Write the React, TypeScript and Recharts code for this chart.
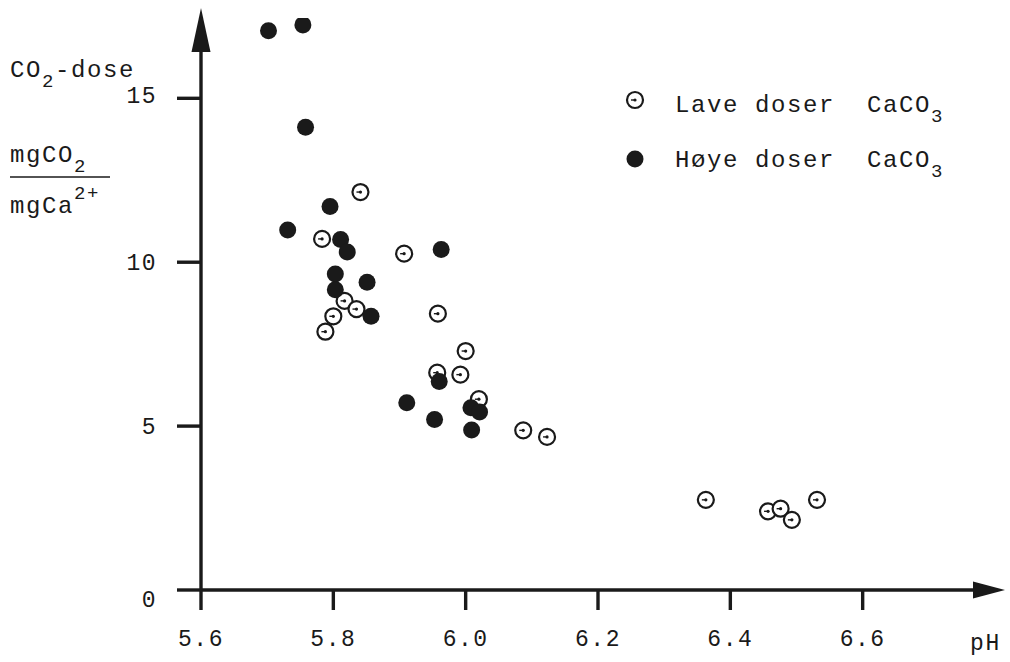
import { ScatterChart, Scatter, XAxis, YAxis, ReferenceDot, Label } from "recharts";

const FONT = "'Liberation Mono', 'DejaVu Sans Mono', monospace";
const INK = "#1a1a1a";

// pH / CO2-dose for low CaCO3 doses (open circles)
const lavePH = [5.841, 5.783, 5.907, 5.817, 5.835, 5.8, 5.788, 5.958, 6.0, 5.957, 5.992, 6.02, 6.087, 6.123, 6.363, 6.457, 6.476, 6.493, 6.531];
const laveDose = [12.14, 10.71, 10.26, 8.82, 8.57, 8.35, 7.88, 8.43, 7.29, 6.63, 6.57, 5.82, 4.87, 4.67, 2.75, 2.4, 2.48, 2.14, 2.75];

// high CaCO3 doses (filled dots)
const hoyePH = [5.702, 5.754, 5.758, 5.795, 5.731, 5.811, 5.821, 5.963, 5.803, 5.803, 5.851, 5.857, 5.96, 5.911, 6.008, 6.021, 5.953, 6.009];
const hoyeDose = [17.06, 17.24, 14.12, 11.7, 10.98, 10.69, 10.31, 10.39, 9.64, 9.16, 9.39, 8.35, 6.36, 5.71, 5.56, 5.43, 5.2, 4.88];

const xTicks = [5.6, 5.8, 6.0, 6.2, 6.4, 6.6];
const yTicks = [0, 5, 10, 15];

const lave = lavePH.map((x, i) => ({ x, y: laveDose[i] }));
const hoye = hoyePH.map((x, i) => ({ x, y: hoyeDose[i] }));

const OpenDot = ({ cx, cy }: any) => (
  <g>
    <circle cx={cx} cy={cy} r={8} fill="#fff" stroke={INK} strokeWidth={2.2} />
    <circle cx={cx} cy={cy} r={1.6} fill={INK} />
    <line x1={cx - 4} y1={cy} x2={cx} y2={cy} stroke={INK} strokeWidth={1.4} />
  </g>
);

const FilledDot = ({ cx, cy }: any) => <circle cx={cx} cy={cy} r={8.5} fill={INK} />;

const YTick = ({ x, y, payload }: any) => (
  <text
    x={x}
    y={y + (payload.value === 0 ? 9 : payload.value === 15 ? -3 : 0)}
    dy="0.35em"
    textAnchor="end"
    fontFamily={FONT}
    fontSize={23}
    letterSpacing={1.5}
    fill={INK}
  >
    {payload.value}
  </text>
);

const txt = { fontFamily: FONT, fill: INK, letterSpacing: 1.6 } as const;

const YTitle = () => (
  <g>
    <text x={10} y={77} fontSize={24} {...txt}>
      CO<tspan fontSize={19} dy={10}>2</tspan>
      <tspan dy={-10}>-dose</tspan>
    </text>
    <text x={10} y={162} fontSize={24} {...txt}>
      mgCO<tspan fontSize={19} dy={10}>2</tspan>
    </text>
    <line x1={10} y1={177} x2={110} y2={177} stroke={INK} strokeWidth={1.5} />
    <text x={10} y={213} fontSize={24} {...txt}>
      mgCa<tspan fontSize={19} dy={-14}>2+</tspan>
    </text>
  </g>
);

const XTitle = () => (
  <text x={970} y={650} fontSize={23} {...txt}>
    pH
  </text>
);

const LegendBox = () => (
  <svg width={360} height={120} style={{ display: "block" }}>
    <OpenDot cx={20} cy={30} />
    <text x={60} y={42} fontSize={24} {...txt}>
      Lave doser{"\u00a0\u00a0"}CaCO<tspan fontSize={19} dy={10}>3</tspan>
    </text>
    <FilledDot cx={20} cy={89} />
    <text x={60} y={97} fontSize={24} {...txt}>
      Høye doser{"\u00a0\u00a0"}CaCO<tspan fontSize={19} dy={10}>3</tspan>
    </text>
  </svg>
);

const XArrow = ({ cx, cy }: any) => (
  <polygon points={`${cx + 10},${cy} ${cx - 22},${cy - 8.5} ${cx - 22},${cy + 8.5}`} fill={INK} />
);

const YArrow = ({ cx, cy }: any) => (
  <polygon points={`${cx},${cy - 10} ${cx - 9.5},${cy + 34} ${cx + 9.5},${cy + 34}`} fill={INK} />
);

export default function App() {
  return (
    <div style={{ position: "absolute", left: 0, top: 0, width: 1010, height: 662, background: "#fff" }}>
      <ScatterChart width={1010} height={662} margin={{ top: 18, right: 15, bottom: 0, left: 0 }}>
        <XAxis
          type="number"
          dataKey="x"
          domain={[5.6, 6.8]}
          ticks={xTicks}
          tickFormatter={(v: number) => v.toFixed(1)}
          allowDataOverflow
          height={72}
          tickSize={20}
          tickMargin={20}
          axisLine={{ stroke: INK, strokeWidth: 3.4 }}
          tickLine={{ stroke: INK, strokeWidth: 3.4 }}
          tick={{ fill: INK, fontSize: 23, fontFamily: FONT, letterSpacing: 1.5 }}
        >
          <Label content={XTitle} />
        </XAxis>
        <YAxis
          type="number"
          dataKey="y"
          domain={[0, 17.45]}
          ticks={yTicks}
          allowDataOverflow
          width={201}
          tickSize={24}
          tickMargin={20}
          axisLine={{ stroke: INK, strokeWidth: 3.4 }}
          tickLine={{ stroke: INK, strokeWidth: 3.4 }}
          tick={YTick}
        >
          <Label content={YTitle} />
        </YAxis>
        <Scatter name="Lave doser CaCO3" data={lave} shape={OpenDot} isAnimationActive={false} />
        <Scatter name="Høye doser CaCO3" data={hoye} shape={FilledDot} isAnimationActive={false} />
        <ReferenceDot x={6.8} y={0} shape={XArrow} />
        <ReferenceDot x={5.6} y={17.45} shape={YArrow} />
      </ScatterChart>
      <div style={{ position: "absolute", left: 615, top: 70 }}>
        <LegendBox />
      </div>
    </div>
  );
}
